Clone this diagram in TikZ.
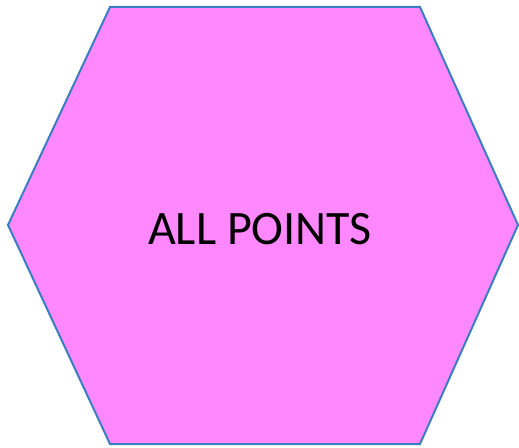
\documentclass[tikz,border=0pt]{standalone}
\usepackage{fontspec}
\setmainfont{Carlito}
\definecolor{hexfill}{HTML}{FF88FF}
\definecolor{hexline}{HTML}{3A7EC0}
\begin{document}
\begin{tikzpicture}[x=1pt,y=1pt,
  hexshape/.style={draw=hexline,fill=hexfill,line width=2pt,line join=miter},
  label/.style={font=\fontsize{48}{48}\selectfont,text=black,inner sep=0pt}]
\useasboundingbox (0,0) rectangle (519,447);
\coordinate (v1) at (110,440);
\coordinate (v2) at (420,440);
\coordinate (v3) at (518,222);
\coordinate (v4) at (420,3);
\coordinate (v5) at (110,3);
\coordinate (v6) at (8,222);
\draw[hexshape] (v1) -- (v2) -- (v3) -- (v4) -- (v5) -- (v6) -- cycle;
\node[label,anchor=base] (t) at (260,202) {ALL POINTS};
\end{tikzpicture}
\end{document}
